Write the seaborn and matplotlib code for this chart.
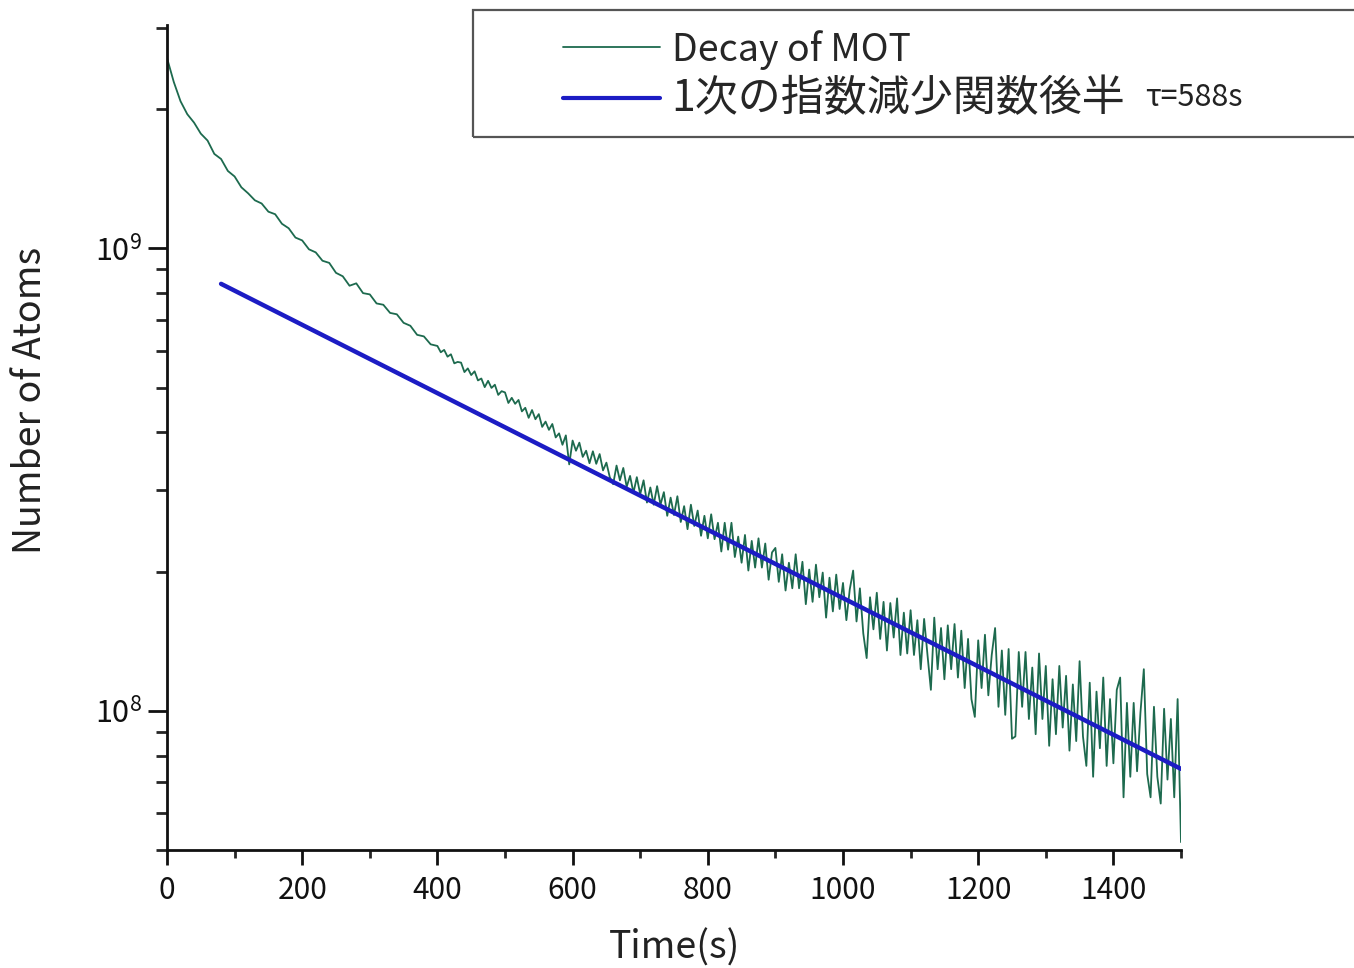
import numpy as np
import pandas as pd
import matplotlib
matplotlib.use("Agg")
import matplotlib.pyplot as plt
import matplotlib.ticker as mticker
from matplotlib.patches import Rectangle
import seaborn as sns

# Early part of the MOT decay, sampled every 10 s (atoms, units of 1e7)
t_early = np.arange(0, 400, 10)
atoms_early = [258, 229, 208, 195, 187, 177, 171, 160, 156, 147,
               143, 135.5, 131.5, 127, 125, 120, 118.5, 113, 110.5, 105.5,
               104, 99.5, 98, 94, 93, 88.5, 87, 83, 84, 80,
               79.5, 76, 75.5, 72.5, 72, 69, 68, 65, 64.5, 62]

# Later part, sampled every 5 s (atoms, units of 1e7)
t_late = np.arange(400, 1501, 5)
atoms_late = [
    61.5, 59.6, 60.3, 58.3, 59.0, 56.4, 56.8, 56.6, 54.0, 55.0,
    53.2, 54.2, 51.8, 52.3, 50.1, 51.7, 49.9, 50.7, 48.2, 49.1,
    48.8, 46.3, 47.5, 46.1, 47.0, 44.4, 45.2, 43.0, 44.7, 42.7,
    43.8, 41.1, 42.2, 40.5, 41.7, 39.0, 39.8, 37.6, 39.4, 34.1,
    38.4, 36.5, 38.0, 35.4, 36.5, 34.3, 36.4, 34.2, 35.9, 33.1,
    34.4, 32.0, 30.9, 33.9, 31.5, 33.5, 30.5, 32.2, 29.6, 32.0,
    29.4, 31.5, 28.2, 30.4, 27.9, 30.6, 27.9, 29.7, 26.4, 28.9,
    26.5, 29.1, 25.6, 27.7, 24.7, 27.9, 25.1, 27.1, 23.9, 26.4,
    23.6, 26.6, 23.5, 25.5, 22.1, 25.5, 22.3, 25.5, 21.5, 23.8,
    20.9, 24.0, 20.1, 23.3, 20.4, 23.6, 20.4, 23.0, 19.2, 22.0,
    22.5, 19.0, 21.8, 18.2, 20.9, 18.4, 21.8, 18.4, 21.0, 17.0,
    20.2, 17.2, 20.7, 17.6, 19.9, 15.9, 19.4, 16.4, 19.7, 16.6,
    18.9, 15.7, 18.3, 20.1, 15.6, 18.4, 14.7, 13.0, 17.6, 15.0,
    18.0, 14.3, 17.2, 13.5, 17.1, 14.4, 17.5, 13.2, 16.3, 13.3,
    16.5, 13.2, 15.7, 12.3, 15.8, 13.2, 11.1, 15.9, 12.3, 15.1,
    11.7, 15.3, 12.3, 15.4, 11.8, 14.9, 11.2, 14.3, 10.6, 9.7,
    14.2, 11.2, 14.6, 10.8, 13.2, 15.1, 10.2, 13.5, 9.8, 13.6,
    8.7, 8.8, 13.4, 10.2, 13.4, 9.6, 12.4, 8.9, 13.3, 9.6,
    12.5, 8.4, 11.7, 8.9, 12.5, 9.2, 11.9, 8.2, 11.4, 8.6,
    12.8, 8.8, 7.6, 11.5, 7.2, 11.0, 8.3, 11.8, 7.6, 10.6,
    7.7, 11.1, 11.8, 6.5, 10.4, 7.2, 10.4, 7.4, 9.9, 12.3,
    7.3, 6.5, 10.2, 7.2, 6.3, 10.1, 7.1, 9.6, 6.5, 10.6,
    5.2,
]

# Single-exponential fit to the second half of the decay
fit_tau = 588.0      # s
fit_amp = 9.6e8      # atoms at t = 0
fit_t_start = 80.0
fit_t_end = 1500.0

label_data = "Decay of MOT"
label_fit = "1次の指数減少関数後半"
label_tau = "τ=588s"
x_ticks = [0, 200, 400, 600, 800, 1000, 1200, 1400]

decay = pd.DataFrame({
    "time": np.concatenate([t_early, t_late]),
    "atoms": np.concatenate([atoms_early, atoms_late]) * 1e7,
})
t_fit = np.linspace(fit_t_start, fit_t_end, 200)
fit = pd.DataFrame({"time": t_fit, "atoms": fit_amp * np.exp(-t_fit / fit_tau)})

sns.set_theme(style="ticks")
plt.rcParams["font.family"] = ["Noto Sans CJK JP", "DejaVu Sans"]
plt.rcParams["axes.linewidth"] = 2.0

W, H = 1354, 968
fig = plt.figure(figsize=(W / 100, H / 100), dpi=100)
ax = fig.add_axes([167 / W, 1 - 850 / H, (1181 - 167) / W, (850 - 25) / H])

green = "#1d6a4e"
blue = "#1c1cc4"
sns.lineplot(data=decay, x="time", y="atoms", ax=ax, color=green, lw=1.3,
             label=label_data)
sns.lineplot(data=fit, x="time", y="atoms", ax=ax, color=blue, lw=3.2,
             label=label_fit)

ax.set_yscale("log")
ax.set_xlim(0, 1500)
ax.set_ylim(5.0e7, 3.04e9)
ax.xaxis.set_major_locator(mticker.FixedLocator(x_ticks))
ax.xaxis.set_minor_locator(mticker.MultipleLocator(100))
ax.yaxis.set_major_locator(mticker.LogLocator(base=10))
ax.yaxis.set_minor_locator(mticker.LogLocator(base=10, subs=np.arange(2, 10)))
ax.yaxis.set_minor_formatter(mticker.NullFormatter())
ax.yaxis.set_major_formatter(mticker.FuncFormatter(
    lambda v, p: r"$\mathregular{10^{%d}}$" % round(np.log10(v))))

ax.tick_params(axis="x", which="major", direction="out", length=11, width=2,
               labelsize=21.5, pad=7, colors="#111111")
ax.tick_params(axis="x", which="minor", direction="out", length=6, width=2)
ax.tick_params(axis="y", which="major", direction="out", length=14, width=2,
               labelsize=22, pad=4, colors="#111111")
ax.tick_params(axis="y", which="minor", direction="out", length=8, width=2)

sns.despine(ax=ax)
for s in ("left", "bottom"):
    ax.spines[s].set_color("#111111")

ax.set_xlabel("Time(s)", fontsize=27, color="#222222")
ax.set_ylabel("Number of Atoms", fontsize=27, color="#222222")
ax.xaxis.set_label_coords(0.501, -0.119)
ax.xaxis.label.set_va("center")
ax.yaxis.set_label_coords(-0.135, 0.545)
ax.yaxis.label.set_va("center")

# Legend box in the top right corner
leg = ax.legend(loc="upper left", bbox_to_anchor=(544 / W, 1 - 11 / H),
                bbox_transform=fig.transFigure, frameon=False,
                handlelength=2.6, handletextpad=0.3, borderpad=0,
                labelspacing=0.2, fontsize=27)
leg.get_texts()[1].set_fontsize(31)
leg.get_lines()[0].set_linewidth(1.3)
leg.get_lines()[1].set_linewidth(3.0)
fig.patches.append(Rectangle((473 / W, 1 - 137 / H), (W + 10 - 473) / W, 127 / H,
                             transform=fig.transFigure, fill=False,
                             edgecolor="#555555", lw=1.6))
fig.text(1145 / W, 1 - 97 / H, label_tau, fontsize=22, va="center",
         ha="left", color="#222222")

fig.savefig("out.png", dpi=100)
